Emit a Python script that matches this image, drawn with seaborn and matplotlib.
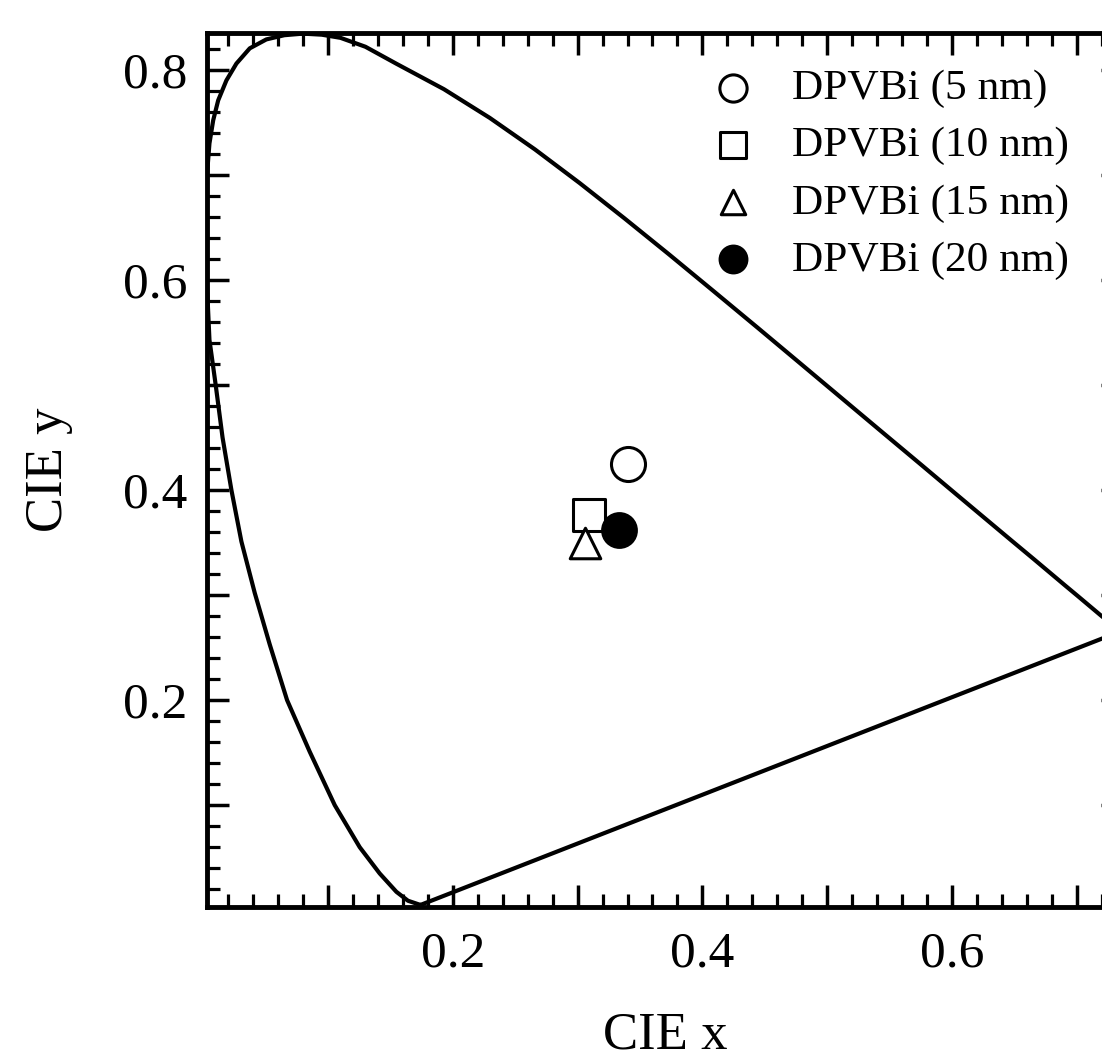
import matplotlib

matplotlib.use("Agg")

import matplotlib.pyplot as plt
import pandas as pd
import seaborn as sns
from matplotlib.ticker import FuncFormatter, MultipleLocator

# spectral locus, traced from the violet end up the left side, over the top and
# down to the red end, then closed by the purple line back to the start
locus_x = [0.1741, 0.1641, 0.1548, 0.1414, 0.1254, 0.1054, 0.0853, 0.0672, 0.0533,
           0.0413, 0.0306, 0.0226, 0.0155, 0.0100, 0.0050, 0.0028, 0.0022, 0.0030,
           0.0050, 0.0080, 0.0120, 0.0186, 0.0266, 0.0373, 0.0506, 0.0650, 0.0800,
           0.0950, 0.1100, 0.1300, 0.1547, 0.1929, 0.2296, 0.2658, 0.3016, 0.3373,
           0.3731, 0.4087, 0.4441, 0.4788, 0.5125, 0.5448, 0.5752, 0.6029, 0.6270,
           0.6482, 0.6658, 0.6801, 0.6915, 0.7006, 0.7079, 0.7140, 0.7190, 0.7230,
           0.7260, 0.7300, 0.7334, 0.7347, 0.1741]
locus_y = [0.0050, 0.0090, 0.0175, 0.0350, 0.0600, 0.1000, 0.1510, 0.2000, 0.2530,
           0.3020, 0.3510, 0.4000, 0.4500, 0.5000, 0.5430, 0.6000, 0.6500, 0.7000,
           0.7300, 0.7520, 0.7710, 0.7900, 0.8060, 0.8205, 0.8290, 0.8330, 0.8345,
           0.8335, 0.8305, 0.8220, 0.8059, 0.7816, 0.7543, 0.7243, 0.6923, 0.6589,
           0.6245, 0.5896, 0.5547, 0.5202, 0.4866, 0.4544, 0.4242, 0.3965, 0.3725,
           0.3514, 0.3340, 0.3197, 0.3083, 0.2993, 0.2920, 0.2859, 0.2809, 0.2770,
           0.2740, 0.2700, 0.2666, 0.2653, 0.0050]

# device colour coordinates
labels = ["DPVBi (5 nm)", "DPVBi (10 nm)", "DPVBi (15 nm)", "DPVBi (20 nm)"]
cie_x = [0.340, 0.309, 0.306, 0.333]
cie_y = [0.425, 0.376, 0.350, 0.362]

x_tick_labels = {0.2: "0.2", 0.4: "0.4", 0.6: "0.6"}
y_tick_labels = {0.2: "0.2", 0.4: "0.4", 0.6: "0.6", 0.8: "0.8"}


def main() -> None:
    sns.set_theme(style="white")
    plt.rcParams["font.family"] = ["Liberation Serif", "DejaVu Serif"]
    for key in ["text.color", "axes.labelcolor", "xtick.color", "ytick.color", "axes.edgecolor"]:
        plt.rcParams[key] = "black"

    fig = plt.figure(figsize=(11.02, 10.61), dpi=100)
    ax = fig.add_axes([0.1878, 0.1451, 0.8312, 0.8237])

    locus = pd.DataFrame({"x": locus_x, "y": locus_y})
    sns.lineplot(data=locus, x="x", y="y", sort=False, estimator=None,
                 color="black", linewidth=3.0, ax=ax)

    styles = [
        dict(marker="o", s=24.5 ** 2, facecolor="white", edgecolor="black", linewidth=2.2),
        dict(marker="s", s=23 ** 2, facecolor="white", edgecolor="black", linewidth=2.2),
        dict(marker="^", s=22 ** 2, facecolor="white", edgecolor="black", linewidth=2.2),
        dict(marker="o", s=25 ** 2, facecolor="black", edgecolor="black", linewidth=1.5),
    ]
    for lab, px, py, st in zip(labels, cie_x, cie_y, styles):
        sns.scatterplot(x=[px], y=[py], label=lab, ax=ax, zorder=3, **st)

    ax.set_xlim(0.003, 0.737)
    ax.set_ylim(0.003, 0.835)

    ax.xaxis.set_major_locator(MultipleLocator(0.1))
    ax.xaxis.set_minor_locator(MultipleLocator(0.02))
    ax.yaxis.set_major_locator(MultipleLocator(0.1))
    ax.yaxis.set_minor_locator(MultipleLocator(0.02))
    ax.xaxis.set_major_formatter(FuncFormatter(lambda v, p: x_tick_labels.get(round(v, 1), "")))
    ax.yaxis.set_major_formatter(FuncFormatter(lambda v, p: y_tick_labels.get(round(v, 1), "")))

    ax.tick_params(which="both", direction="in", top=True, right=True,
                   bottom=True, left=True, color="black", labelsize=37)
    ax.tick_params(which="major", length=16, width=2.5)
    ax.tick_params(which="minor", length=9.5, width=2.3)
    ax.tick_params(axis="x", which="major", pad=17)
    ax.tick_params(axis="y", which="major", pad=14)

    for spine in ax.spines.values():
        spine.set_linewidth(3.5)
        spine.set_color("black")

    ax.set_xlabel("CIE x", fontsize=38, labelpad=25)
    ax.set_ylabel("CIE y", fontsize=38, labelpad=36)

    ax.legend(loc="upper right", bbox_to_anchor=(0.941, 0.959), frameon=False,
              fontsize=31.2, markerscale=0.8, handlelength=1.4, handletextpad=0.65,
              labelspacing=0.41, borderaxespad=0, borderpad=0)

    fig.savefig("out.png", dpi=100, facecolor="white")
    plt.close(fig)


if __name__ == "__main__":
    main()
